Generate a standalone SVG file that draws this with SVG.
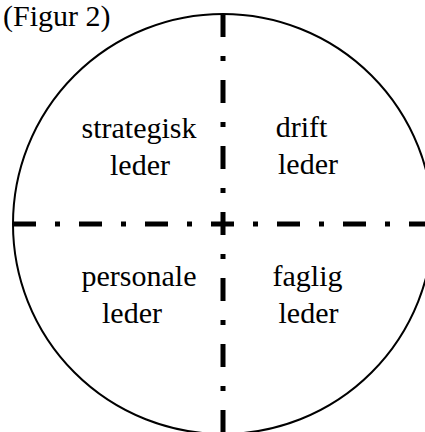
<svg xmlns="http://www.w3.org/2000/svg" width="425" height="432" viewBox="0 0 425 432">
  <style>
    .axis { stroke: #000; stroke-width: 5; stroke-dasharray: 23 19 5 19; fill: none; }
  </style>
  <rect width="425" height="432" fill="#fff"/>
  <g font-family="'Liberation Serif', 'Times New Roman', serif" font-size="30" fill="#000">
  <text x="3" y="26">(Figur 2)</text>
  <g id="circle">
    <circle cx="223" cy="224" r="210" fill="none" stroke="#000" stroke-width="2"/>
  </g>
  <g id="connectors">
    <line class="axis" x1="13" y1="224" x2="440" y2="224"/>
    <line class="axis" x1="223" y1="14" x2="223" y2="440"/>
  </g>
  <g id="strategisk">
    <text x="139" y="138" text-anchor="middle">strategisk</text>
    <text x="140" y="175" text-anchor="middle">leder</text>
  </g>
  <g id="drift">
    <text x="301.5" y="137" text-anchor="middle">drift</text>
    <text x="308" y="174" text-anchor="middle">leder</text>
  </g>
  <g id="personale">
    <text x="139" y="286" text-anchor="middle">personale</text>
    <text x="132" y="323" text-anchor="middle">leder</text>
  </g>
  <g id="faglig">
    <text x="307.5" y="286" text-anchor="middle">faglig</text>
    <text x="308.5" y="323" text-anchor="middle">leder</text>
  </g>
  </g>
</svg>
